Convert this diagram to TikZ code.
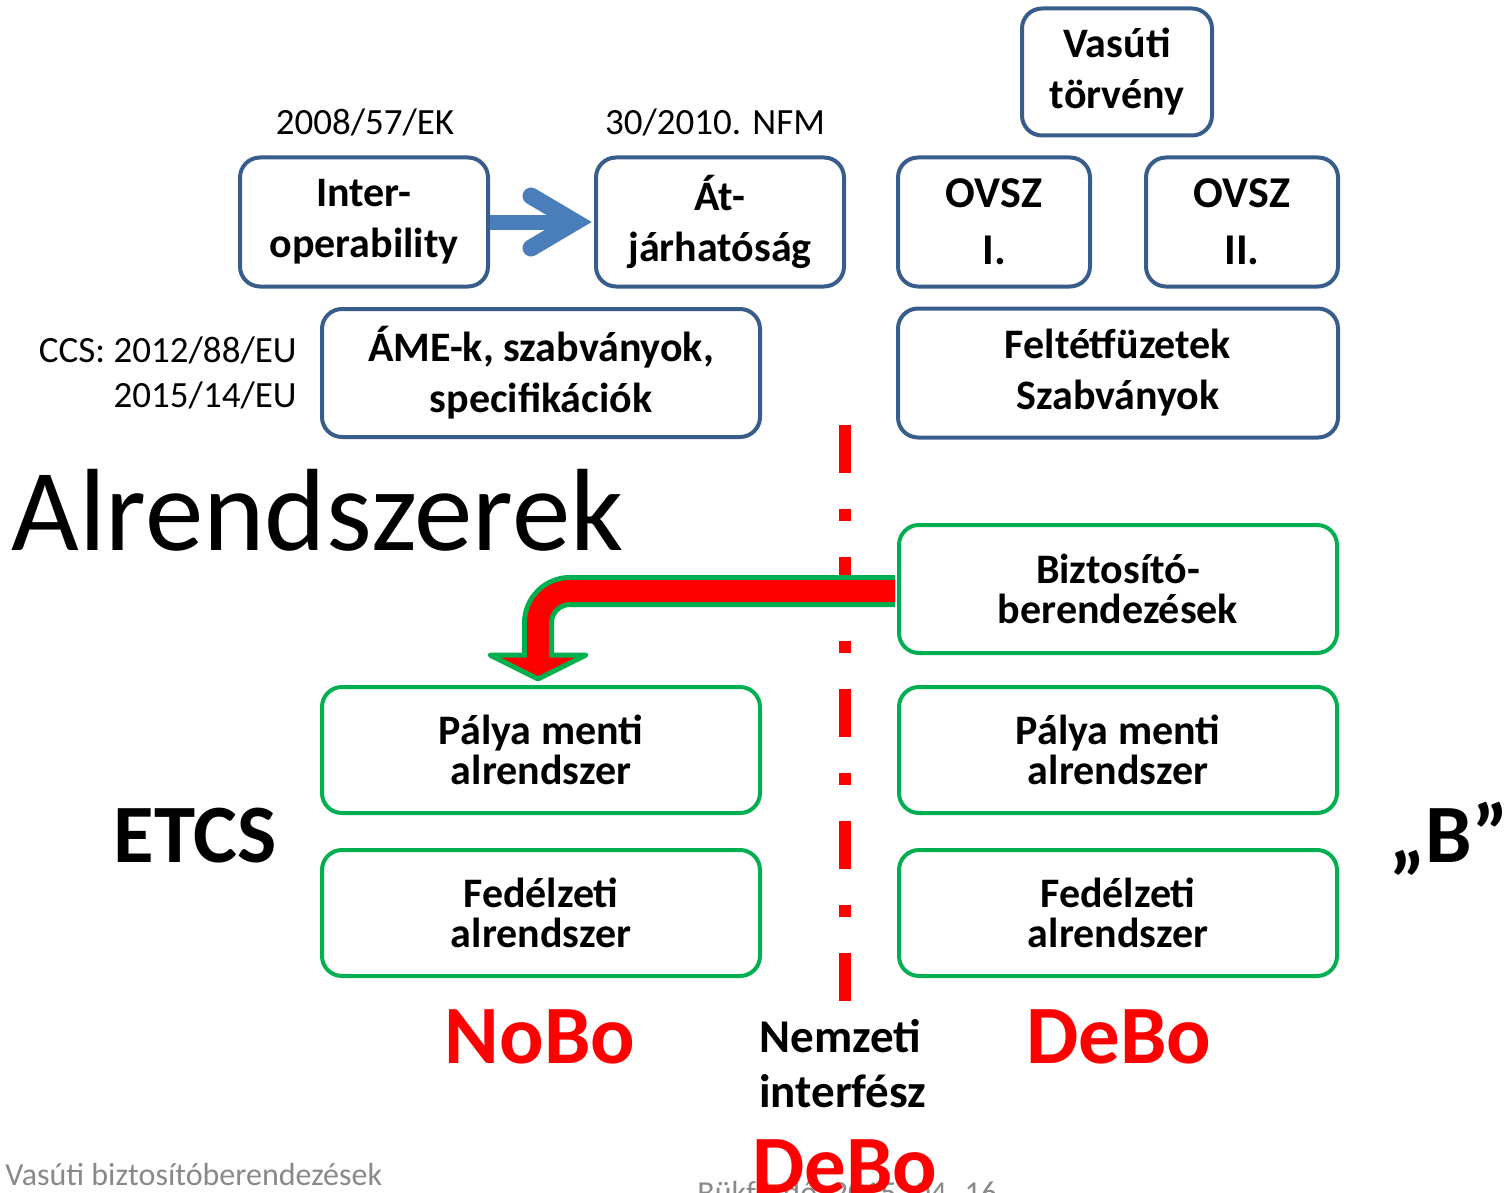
\documentclass[tikz,border=0pt]{standalone}
\usepackage{fontspec}
\setmainfont{Carlito}
\usetikzlibrary{positioning,calc}
\definecolor{boxblue}{RGB}{56,93,138}
\definecolor{arrowblue}{RGB}{74,126,187}
\definecolor{boxgreen}{RGB}{0,176,80}
\definecolor{footgray}{RGB}{137,137,137}
\newcommand{\fsz}[2]{\fontsize{#1}{#2}\selectfont}

\begin{document}
\begin{tikzpicture}[x=0.5pt, y=-0.5pt,
    bluebox/.style={draw=boxblue, line width=2pt, rounded corners=10pt, align=center, inner sep=0pt, font=\bfseries\fsz{21}{25.5}},
    greenbox/.style={draw=boxgreen, line width=2pt, rounded corners=10pt, align=center, inner sep=0pt, minimum width=219pt, minimum height=63pt, font=\bfseries\fsz{21}{20}},
    lbl/.style={inner sep=0pt, anchor=base, font=\fsz{18.5}{22}},
    bigword/.style={inner sep=0pt, anchor=base, font=\bfseries\fsz{41.5}{48}},
    footer/.style={inner sep=0pt, anchor=base west, text=footgray, font=\fsz{16}{18}}]
    \useasboundingbox (0,0) rectangle (1510,1193);

    % Hungarian law side (top right)
    \node[bluebox, minimum width=95pt, minimum height=63.5pt] (vasuti) at (1117,72) {Vasúti\\törvény};
    \foreach \x/\s/\t in {994/A/I., 1242/B/II.} {
        \node[bluebox, minimum width=96pt, minimum height=64.5pt, font=\bfseries\fsz{22}{28.5}] (ovsz\s) at (\x,222) {OVSZ\\\t};
    }
    \node[bluebox, minimum width=220pt, minimum height=64.5pt] (feltet) at (1118,373) {Feltétfüzetek\\Szabványok};

    % EU side (top left)
    \node[lbl] (ek) at (365,134) {2008/57/EK};
    \node[lbl] (nfm) at (715,134) {30/2010. NFM};
    \node[bluebox, minimum width=124pt, minimum height=64.5pt] (inter) at (364,222) {Inter-\\operability};
    \node[bluebox, minimum width=124pt, minimum height=64.5pt] (atjar) at (720,222) {Át-\\járhatóság};
    \node[lbl, anchor=base east] (ccsA) at (297,362) {CCS: 2012/88/EU};
    \node[lbl, anchor=base east] (ccsB) at (297,407) {2015/14/EU};
    \node[bluebox, minimum width=219pt, minimum height=64pt] (ame) at (541,373) {ÁME-k, szabványok,\\specifikációk};

    % blue arrow
    \draw[arrowblue, line width=7.5pt] (inter.east) -- ($(atjar.west)+(-19,0)$);
    \draw[arrowblue, line width=8.5pt, line cap=round, line join=miter] ($(atjar.west)+(-63,-26)$) -- ($(atjar.west)+(-19,0)$) -- ($(atjar.west)+(-63,26)$);

    % Subsystems
    \node[inner sep=0pt, anchor=base west, font=\fsz{58.5}{60}] (alrend) at (11,550) {Alrendszerek};
    \node[greenbox, minimum height=64pt] (biztosito) at (1118,589) {Biztosító-\\berendezések};
    \foreach \x/\s in {541/L, 1118/R} {
        \node[greenbox] (palya\s) at (\x,750) {Pálya menti\\alrendszer};
        \node[greenbox] (fed\s) at (\x,913) {Fedélzeti\\alrendszer};
    }
    \node[bigword] (etcs) at (195,862) {ETCS};
    \node[bigword] (bsys) at (1449,862) {„B”};

    % national interface line
    \coordinate (sepTop) at (845,425);
    \coordinate (sepBot) at (845,1001);
    \draw[red, line width=6pt, dash pattern=on 24pt off 18pt on 6pt off 18pt] (sepTop) -- (sepBot);

    % red bent arrow
    \coordinate (headtip) at ($(palyaL.north)+(-3,-6)$);
    \coordinate (headbase) at ($(headtip)+(0,-24)$);
    \coordinate (headL) at ($(headtip)+(-48,-24)$);
    \coordinate (headR) at ($(headtip)+(48,-24)$);
    \draw[boxgreen, line width=16pt, rounded corners=16pt] ($(biztosito.west)+(-2,2)$) -| (headbase);
    \filldraw[fill=red, draw=boxgreen, line width=2.5pt, line join=round] (headL) -- (headR) -- (headtip) -- cycle;
    \draw[red, line width=11pt, rounded corners=16pt] ($(biztosito.west)+(-2,2)$) -| ($(headbase)+(0,4)$);

    % bodies
    \node[bigword, text=red] (nobo) at (540,1063) {NoBo};
    \node[bigword, text=red] (deboR) at (1119,1063) {DeBo};
    \node[inner sep=0pt, anchor=base west, font=\bfseries\fsz{23.5}{28}] (nemzeti) at (759,1052) {Nemzeti};
    \node[inner sep=0pt, anchor=base west, font=\bfseries\fsz{23.5}{28}] (interfesz) at (759,1107) {interfész};

    % footer
    \node[footer] (footL) at (5,1185) {Vasúti biztosítóberendezések};
    \node[footer] (footR) at (697,1203) {Bükfürdő, 2015. 04. 16};
    \node[bigword, text=red] (deboB) at (845,1193) {DeBo};
\end{tikzpicture}
\end{document}
